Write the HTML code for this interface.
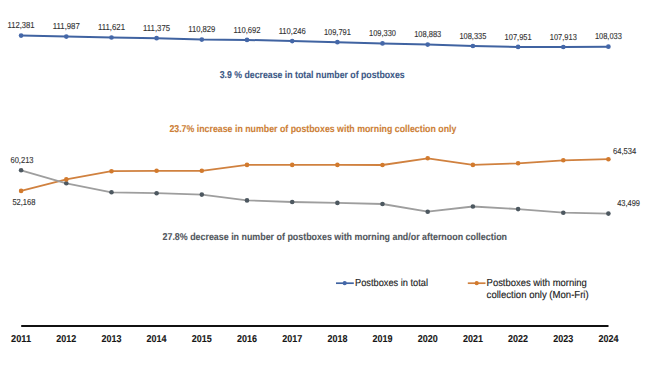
<!DOCTYPE html>
<html><head><meta charset="utf-8"><style>
html,body{margin:0;padding:0;background:#fff;}
body{width:650px;height:366px;overflow:hidden;}
svg{display:block;}
text{font-family:"Liberation Sans",sans-serif;text-rendering:geometricPrecision;}
.lbl{font-size:8.7px;fill:#333;stroke:#333;stroke-width:0.12px;}
.ann{font-size:9.9px;font-weight:bold;stroke-width:0.1px;}
.leg{font-size:10.2px;fill:#222;stroke:#222;stroke-width:0.15px;}
.yr{font-size:10px;font-weight:bold;fill:#151515;stroke:#151515;stroke-width:0.1px;}
</style></head><body>
<svg width="650" height="366" viewBox="0 0 650 366">
<polyline points="21.1,35.6 66.3,36.6 111.5,37.5 156.6,38.2 201.8,39.6 247.0,39.9 292.2,41.1 337.4,42.2 382.5,43.4 427.7,44.6 472.9,46.0 518.1,46.9 563.3,47.0 608.4,46.7" fill="none" stroke="#4063A1" stroke-width="2.0" stroke-linejoin="round"/>
<circle cx="21.1" cy="35.6" r="2.35" fill="#4467A8"/><circle cx="66.3" cy="36.6" r="2.35" fill="#4467A8"/><circle cx="111.5" cy="37.5" r="2.35" fill="#4467A8"/><circle cx="156.6" cy="38.2" r="2.35" fill="#4467A8"/><circle cx="201.8" cy="39.6" r="2.35" fill="#4467A8"/><circle cx="247.0" cy="39.9" r="2.35" fill="#4467A8"/><circle cx="292.2" cy="41.1" r="2.35" fill="#4467A8"/><circle cx="337.4" cy="42.2" r="2.35" fill="#4467A8"/><circle cx="382.5" cy="43.4" r="2.35" fill="#4467A8"/><circle cx="427.7" cy="44.6" r="2.35" fill="#4467A8"/><circle cx="472.9" cy="46.0" r="2.35" fill="#4467A8"/><circle cx="518.1" cy="46.9" r="2.35" fill="#4467A8"/><circle cx="563.3" cy="47.0" r="2.35" fill="#4467A8"/><circle cx="608.4" cy="46.7" r="2.35" fill="#4467A8"/>
<polyline points="21.1,190.9 66.3,179.4 111.5,171.2 156.6,170.8 201.8,170.8 247.0,164.9 292.2,164.9 337.4,164.9 382.5,165.0 427.7,158.3 472.9,164.9 518.1,163.3 563.3,160.3 608.4,159.2" fill="none" stroke="#D0813F" stroke-width="1.8" stroke-linejoin="round"/>
<polyline points="21.1,170.3 66.3,183.3 111.5,192.3 156.6,193.2 201.8,194.6 247.0,200.4 292.2,202.0 337.4,202.9 382.5,204.0 427.7,211.7 472.9,206.5 518.1,209.1 563.3,212.7 608.4,213.6" fill="none" stroke="#9E9E9E" stroke-width="1.8" stroke-linejoin="round"/>
<circle cx="21.1" cy="170.3" r="2.3" fill="#4D5860"/><circle cx="66.3" cy="183.3" r="2.3" fill="#4D5860"/><circle cx="111.5" cy="192.3" r="2.3" fill="#4D5860"/><circle cx="156.6" cy="193.2" r="2.3" fill="#4D5860"/><circle cx="201.8" cy="194.6" r="2.3" fill="#4D5860"/><circle cx="247.0" cy="200.4" r="2.3" fill="#4D5860"/><circle cx="292.2" cy="202.0" r="2.3" fill="#4D5860"/><circle cx="337.4" cy="202.9" r="2.3" fill="#4D5860"/><circle cx="382.5" cy="204.0" r="2.3" fill="#4D5860"/><circle cx="427.7" cy="211.7" r="2.3" fill="#4D5860"/><circle cx="472.9" cy="206.5" r="2.3" fill="#4D5860"/><circle cx="518.1" cy="209.1" r="2.3" fill="#4D5860"/><circle cx="563.3" cy="212.7" r="2.3" fill="#4D5860"/><circle cx="608.4" cy="213.6" r="2.3" fill="#4D5860"/>
<circle cx="21.1" cy="190.9" r="2.3" fill="#D27A2D"/><circle cx="66.3" cy="179.4" r="2.3" fill="#D27A2D"/><circle cx="111.5" cy="171.2" r="2.3" fill="#D27A2D"/><circle cx="156.6" cy="170.8" r="2.3" fill="#D27A2D"/><circle cx="201.8" cy="170.8" r="2.3" fill="#D27A2D"/><circle cx="247.0" cy="164.9" r="2.3" fill="#D27A2D"/><circle cx="292.2" cy="164.9" r="2.3" fill="#D27A2D"/><circle cx="337.4" cy="164.9" r="2.3" fill="#D27A2D"/><circle cx="382.5" cy="165.0" r="2.3" fill="#D27A2D"/><circle cx="427.7" cy="158.3" r="2.3" fill="#D27A2D"/><circle cx="472.9" cy="164.9" r="2.3" fill="#D27A2D"/><circle cx="518.1" cy="163.3" r="2.3" fill="#D27A2D"/><circle cx="563.3" cy="160.3" r="2.3" fill="#D27A2D"/><circle cx="608.4" cy="159.2" r="2.3" fill="#D27A2D"/>
<text x="21.1" y="28.2" text-anchor="middle" class="lbl" textLength="27" lengthAdjust="spacingAndGlyphs">112,381</text>
<text x="66.3" y="29.2" text-anchor="middle" class="lbl" textLength="27" lengthAdjust="spacingAndGlyphs">111,987</text>
<text x="111.5" y="30.1" text-anchor="middle" class="lbl" textLength="27" lengthAdjust="spacingAndGlyphs">111,621</text>
<text x="156.6" y="30.8" text-anchor="middle" class="lbl" textLength="27" lengthAdjust="spacingAndGlyphs">111,375</text>
<text x="201.8" y="32.2" text-anchor="middle" class="lbl" textLength="27" lengthAdjust="spacingAndGlyphs">110,829</text>
<text x="247.0" y="32.5" text-anchor="middle" class="lbl" textLength="27" lengthAdjust="spacingAndGlyphs">110,692</text>
<text x="292.2" y="33.7" text-anchor="middle" class="lbl" textLength="27" lengthAdjust="spacingAndGlyphs">110,246</text>
<text x="337.4" y="34.8" text-anchor="middle" class="lbl" textLength="27" lengthAdjust="spacingAndGlyphs">109,791</text>
<text x="382.5" y="36.0" text-anchor="middle" class="lbl" textLength="27" lengthAdjust="spacingAndGlyphs">109,330</text>
<text x="427.7" y="37.2" text-anchor="middle" class="lbl" textLength="27" lengthAdjust="spacingAndGlyphs">108,883</text>
<text x="472.9" y="38.6" text-anchor="middle" class="lbl" textLength="27" lengthAdjust="spacingAndGlyphs">108,335</text>
<text x="518.1" y="39.5" text-anchor="middle" class="lbl" textLength="27" lengthAdjust="spacingAndGlyphs">107,951</text>
<text x="563.3" y="39.6" text-anchor="middle" class="lbl" textLength="27" lengthAdjust="spacingAndGlyphs">107,913</text>
<text x="608.4" y="39.3" text-anchor="middle" class="lbl" textLength="27" lengthAdjust="spacingAndGlyphs">108,033</text>
<text x="10.5" y="163" class="lbl" textLength="23" lengthAdjust="spacingAndGlyphs">60,213</text>
<text x="12.4" y="205.3" class="lbl" textLength="23" lengthAdjust="spacingAndGlyphs">52,168</text>
<text x="613" y="154.3" class="lbl" textLength="23.2" lengthAdjust="spacingAndGlyphs">64,534</text>
<text x="617.2" y="206.2" class="lbl" textLength="22.8" lengthAdjust="spacingAndGlyphs">43,499</text>
<text x="219.7" y="77.9" class="ann" fill="#3C5886" stroke="#3C5886" textLength="185" lengthAdjust="spacingAndGlyphs">3.9 % decrease in total number of postboxes</text>
<text x="169.4" y="131.8" class="ann" fill="#CD7F37" stroke="#CD7F37" textLength="287" lengthAdjust="spacingAndGlyphs">23.7% increase in number of postboxes with morning collection only</text>
<text x="162.5" y="240" class="ann" fill="#52575D" stroke="#52575D" textLength="344.5" lengthAdjust="spacingAndGlyphs">27.8% decrease in number of postboxes with morning and/or afternoon collection</text>
<line x1="336" y1="283.2" x2="353.8" y2="283.2" stroke="#4063A1" stroke-width="1.7"/><circle cx="344.7" cy="283.2" r="2.1" fill="#4467A8"/>
<text x="355" y="286" class="leg" textLength="73" lengthAdjust="spacingAndGlyphs">Postboxes in total</text>
<line x1="467.8" y1="283.2" x2="485.5" y2="283.2" stroke="#D0813F" stroke-width="1.7"/><circle cx="476.7" cy="283.2" r="2.1" fill="#D27A2D"/>
<text x="486.6" y="286.2" class="leg" textLength="100.2" lengthAdjust="spacingAndGlyphs">Postboxes with morning</text>
<text x="486.6" y="298.1" class="leg" textLength="102.1" lengthAdjust="spacingAndGlyphs">collection only (Mon-Fri)</text>
<line x1="21.2" y1="326" x2="608.5" y2="326" stroke="#111" stroke-width="2"/>
<text x="21.1" y="341.8" text-anchor="middle" class="yr" textLength="20" lengthAdjust="spacingAndGlyphs">2011</text>
<text x="66.3" y="341.8" text-anchor="middle" class="yr" textLength="20" lengthAdjust="spacingAndGlyphs">2012</text>
<text x="111.5" y="341.8" text-anchor="middle" class="yr" textLength="20" lengthAdjust="spacingAndGlyphs">2013</text>
<text x="156.6" y="341.8" text-anchor="middle" class="yr" textLength="20" lengthAdjust="spacingAndGlyphs">2014</text>
<text x="201.8" y="341.8" text-anchor="middle" class="yr" textLength="20" lengthAdjust="spacingAndGlyphs">2015</text>
<text x="247.0" y="341.8" text-anchor="middle" class="yr" textLength="20" lengthAdjust="spacingAndGlyphs">2016</text>
<text x="292.2" y="341.8" text-anchor="middle" class="yr" textLength="20" lengthAdjust="spacingAndGlyphs">2017</text>
<text x="337.4" y="341.8" text-anchor="middle" class="yr" textLength="20" lengthAdjust="spacingAndGlyphs">2018</text>
<text x="382.5" y="341.8" text-anchor="middle" class="yr" textLength="20" lengthAdjust="spacingAndGlyphs">2019</text>
<text x="427.7" y="341.8" text-anchor="middle" class="yr" textLength="20" lengthAdjust="spacingAndGlyphs">2020</text>
<text x="472.9" y="341.8" text-anchor="middle" class="yr" textLength="20" lengthAdjust="spacingAndGlyphs">2021</text>
<text x="518.1" y="341.8" text-anchor="middle" class="yr" textLength="20" lengthAdjust="spacingAndGlyphs">2022</text>
<text x="563.3" y="341.8" text-anchor="middle" class="yr" textLength="20" lengthAdjust="spacingAndGlyphs">2023</text>
<text x="608.4" y="341.8" text-anchor="middle" class="yr" textLength="20" lengthAdjust="spacingAndGlyphs">2024</text>
</svg>
</body></html>
